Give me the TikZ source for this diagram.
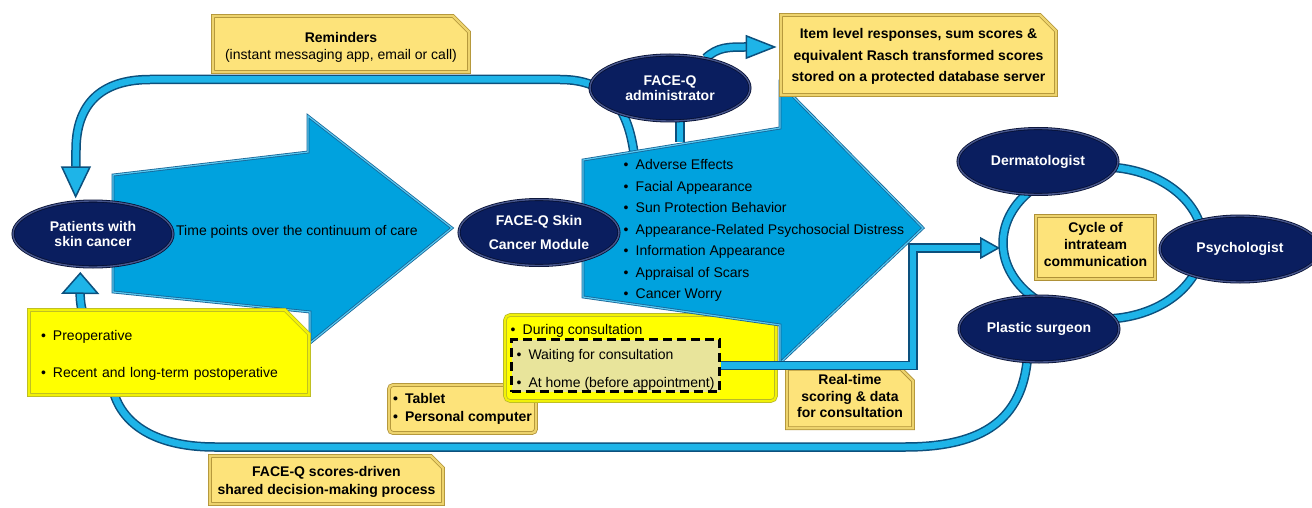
\documentclass[tikz,border=0pt]{standalone}
\usepackage{fontspec}
\setmainfont{Liberation Sans}
\usetikzlibrary{shapes.geometric,shapes.misc,arrows.meta}
\pgfdeclarelayer{tubes}
\pgfdeclarelayer{tab}
\pgfdeclarelayer{dur}
\pgfdeclarelayer{arr}
\pgfsetlayers{tubes,tab,dur,arr,main}
\definecolor{arrowfill}{RGB}{0,162,222}
\definecolor{arrowedge}{RGB}{22,100,150}
\definecolor{arrowlight}{RGB}{90,200,240}
\definecolor{tubemid}{RGB}{30,180,232}
\definecolor{tubedark}{RGB}{12,80,125}
\definecolor{navyfill}{RGB}{10,30,95}
\definecolor{navyedge}{RGB}{70,85,140}
\definecolor{navydark}{RGB}{5,15,50}
\definecolor{boxyel}{RGB}{253,227,122}
\definecolor{boxgold}{RGB}{175,145,55}
\definecolor{brightyel}{RGB}{255,255,0}
\definecolor{brightedge}{RGB}{185,185,40}
\definecolor{dashfill}{RGB}{232,228,155}
\newcommand{\mybul}{\makebox[12pt][l]{•}}
\newcommand{\myH}[1]{\rule{0pt}{#1}}
\newcommand{\myD}[1]{\rule[-#1]{0pt}{#1}}
\begin{document}
\begin{tikzpicture}[x=1pt,y=-1pt,
  every node/.style={font=\fontsize{14}{16}\selectfont, inner sep=0pt},
  oval/.style={ellipse, minimum width=160pt, minimum height=66pt, fill=navyfill,
    draw=navydark, line width=0.8pt, double=navyedge, double distance=1.4pt,
    text=white, align=center, font=\bfseries\fontsize{14}{15}\selectfont},
  gbox/.style={chamfered rectangle, chamfered rectangle corners=north east,
    chamfered rectangle xsep=8pt, chamfered rectangle ysep=8pt,
    fill=boxyel, draw=boxgold, line width=0.8pt, double=boxyel!80!boxgold,
    double distance=2.2pt, align=center},
  sqbox/.style={rectangle, fill=boxyel, draw=boxgold, line width=0.8pt,
    double=boxyel!80!boxgold, double distance=2.2pt},
  brightbox/.style={rectangle, fill=brightyel, draw=brightedge, line width=0.8pt,
    double=brightyel!80!brightedge, double distance=2pt},
  dashbox/.style={rectangle, fill=dashfill, draw=black, line width=2.6pt,
    dash pattern=on 9pt off 5pt, align=left},
  tube/.style={draw=tubedark, line width=1.5pt, double=tubemid, double distance=6.5pt},
  bigarrow/.style={fill=arrowfill, draw=arrowedge, line width=0.8pt,
    double=arrowlight, double distance=1.2pt, line join=miter, miter limit=10}
]
\useasboundingbox (0,0) rectangle (1312,508);
\clip (0,0) rectangle (1312,508);

% coordinates
\coordinate (ringc) at (1103,243);
\coordinate (ringW) at (1000,248);
\coordinate (a2top) at (680,142);
\coordinate (a2topL) at (634,153);

% ellipses
\node[oval] (patients) at (93,234) {Patients with\\skin cancer};
\node[oval] (skin) at (539,232.5) {FACE-Q Skin\\[9pt]Cancer Module};
\node[oval] (admin) at (670,88) {FACE-Q\\administrator};
\node[oval] (derm) at (1038,161.5) {Dermatologist};
\node[oval] (psych) at (1240,249) {Psychologist};
\node[oval] (plastic) at (1039,329) {Plastic surgeon};

% gold boxes
\node[gbox, minimum width=256pt, minimum height=56pt, font=\fontsize{14}{16.5}\selectfont] (remind) at (341,44)
  {\myH{17.4pt}\textbf{Reminders}\\(instant messaging app, email or call)};
\node[gbox, minimum width=275pt, minimum height=80pt, font=\bfseries\fontsize{14}{21.5}\selectfont] (storage) at (918.5,55)
  {\myH{13.9pt}Item level responses, sum scores \&\\equivalent Rasch transformed scores\\stored on a protected database server};
\node[gbox, chamfered rectangle xsep=6pt, chamfered rectangle ysep=6pt, minimum width=233pt, minimum height=48pt, font=\bfseries\fontsize{14}{18}\selectfont] (scores) at (326.5,480)
  {\myH{14.9pt}FACE-Q scores-driven\\shared decision-making process};
\node[gbox, chamfered rectangle xsep=6pt, chamfered rectangle ysep=6pt, minimum width=126pt, minimum height=53pt, font=\bfseries\fontsize{14}{16.5}\selectfont] (realtime) at (850,398.5)
  {Real-time\\scoring \& data\\for consultation\myD{4.2pt}};
\node[sqbox, minimum width=119pt, minimum height=63pt, align=center, font=\bfseries\fontsize{14}{17}\selectfont] (cycle) at (1095.5,247.5)
  {Cycle of\\intrateam\\communication\myD{5.2pt}};
\node[gbox, chamfered rectangle xsep=12pt, chamfered rectangle ysep=12pt, fill=brightyel, draw=brightedge, double=brightyel!80!brightedge,
  minimum width=270pt, minimum height=85pt, text width=256pt, align=left, font=\fontsize{14}{16}\selectfont] (preop) at (169,352.5)
  {\myH{15.9pt}\mybul Preoperative\\[20pt]\mybul Recent and long-term postoperative};

% tablet box
\begin{pgfonlayer}{tab}
\node[sqbox, rounded corners=4pt, minimum width=147pt, minimum height=48pt, align=left, font=\bfseries\fontsize{14}{18}\selectfont] (tablet) at (462.5,409)
  {\mybul Tablet\\\mybul Personal computer};
\end{pgfonlayer}

% during consultation box
\begin{pgfonlayer}{dur}
\node[brightbox, rounded corners=5pt, minimum width=271pt, minimum height=86pt] (during) at (640.5,358) {};
\node[anchor=base west] (durT) at (510.5,334) {\mybul During consultation};
\node[dashbox, minimum width=208pt, minimum height=52pt] (dash) at (615.5,365.5)
  {\myH{17.9pt}\mybul Waiting for consultation\\[12pt]\mybul At home (before appointment)};
\end{pgfonlayer}

% big arrows
\begin{pgfonlayer}{arr}
\draw[bigarrow] (113,175) -- (308,152) -- (308,116) -- (452,228) -- (310,343) -- (310,312) -- (113,292) -- cycle;
\node[anchor=west] (tp) at (176,232) {Time points over the continuum of care};
\draw[bigarrow] (583,160) -- (780,128) -- (780,83) -- (923,228) -- (780,363) -- (780,325) -- (583,297) -- cycle;
\node[anchor=west, align=left, font=\fontsize{14}{21.5}\selectfont] (list) at (623.5,230.8)
  {\mybul Adverse Effects\\\mybul Facial Appearance\\\mybul Sun Protection Behavior\\\mybul Appearance-Related Psychosocial Distress\\\mybul Information Appearance\\\mybul Appraisal of Scars\\\mybul Cancer Worry};
\end{pgfonlayer}

% tubes
\begin{pgfonlayer}{tubes}
\draw[tube, -{Triangle[length=32pt,width=30pt,fill=tubemid]}, shorten >=3pt]
  (a2topL) .. controls (628,110) and (610,79.5) .. (560,79.5) -- (150,79.5)
  .. controls (100,79.5) and (76,105) .. (76,150) -- (patients.118);
\draw[tube] ([xshift=10pt]admin.center) -- (a2top);
\draw[tube, -{Triangle[length=31pt,width=24pt,fill=tubemid]}, shorten >=4pt]
  (admin.40) .. controls (718,47) and (728,47) .. ([yshift=8pt]storage.west);
\draw[tube, -{Triangle[length=22pt,width=38pt,fill=tubemid]}, shorten >=5pt]
  (plastic.250) .. controls (1020,425) and (975,447) .. (905,447) -- (215,447)
  .. controls (150,447) and (118,420) .. (112,385) .. controls (105,340) and (80,330) .. (patients.249);
\draw[tube] (ringc) ellipse [x radius=100pt, y radius=76pt];
\end{pgfonlayer}

% real-time connector
\draw[tube, -{Triangle[length=20pt,width=22pt,fill=tubemid]}] (dash.east) -- ++(192,0) |- (ringW);
\end{tikzpicture}
\end{document}
